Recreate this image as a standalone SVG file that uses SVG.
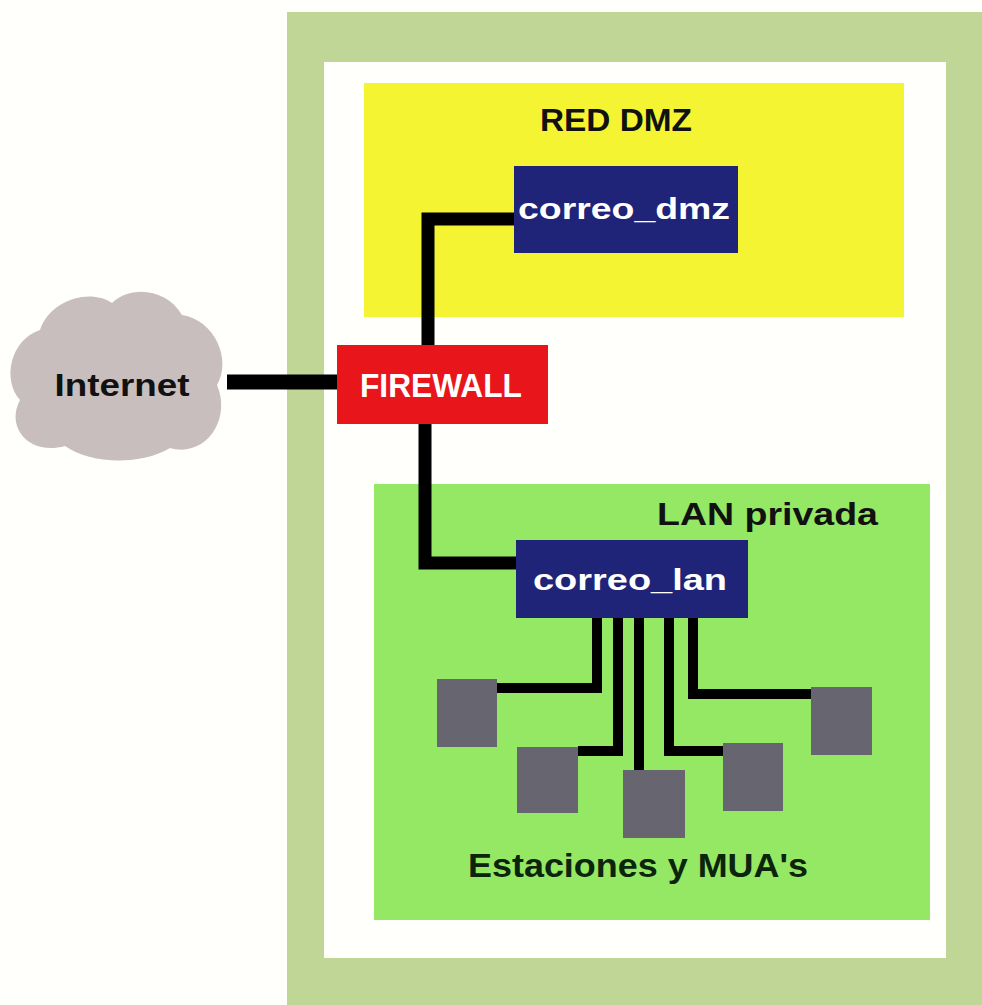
<svg xmlns="http://www.w3.org/2000/svg" width="982" height="1005" viewBox="0 0 982 1005">
<style>
.lbl{font-family:"Liberation Sans","DejaVu Sans",sans-serif;font-weight:bold;}
.dark{fill:#111;}
.white{fill:#fff;}
.srv{fill:#1f2478;}
.term{fill:#67656f;}
.wire{fill:none;stroke:#000;stroke-linejoin:miter;stroke-linecap:butt;}
</style>
<rect x="0" y="0" width="982" height="1005" fill="#fffffb"/>
<g id="frame">
<rect x="287" y="12" width="695" height="993" fill="#c0d696"/>
<rect x="324" y="62" width="622" height="896" fill="#fffffb"/>
</g>
<g id="dmz">
<rect x="364" y="83" width="540" height="234" fill="#f4f432"/>
<text class="lbl dark" x="616" y="131" font-size="32" text-anchor="middle" textLength="152" lengthAdjust="spacingAndGlyphs">RED DMZ</text>
</g>
<g id="lan">
<rect x="374" y="484" width="556" height="436" fill="#94e864"/>
<text class="lbl dark" x="878" y="525" font-size="31" text-anchor="end" textLength="221" lengthAdjust="spacingAndGlyphs">LAN privada</text>
<text class="lbl" fill="#0c240c" x="638" y="877" font-size="33" text-anchor="middle" textLength="340" lengthAdjust="spacingAndGlyphs">Estaciones y MUA's</text>
</g>
<g id="connectors">
<path class="wire" stroke-width="15" d="M227,382 H337"/>
<path class="wire" stroke-width="13" d="M428,345 V219 H514"/>
<path class="wire" stroke-width="13" d="M425,424 V563 H516"/>
<path class="wire" stroke-width="10" d="M597,618 V688 H497"/>
<path class="wire" stroke-width="10" d="M618,618 V751 H578"/>
<path class="wire" stroke-width="10" d="M639,618 V770"/>
<path class="wire" stroke-width="10" d="M669,618 V751 H723"/>
<path class="wire" stroke-width="10" d="M693,618 V694 H811"/>
</g>
<g id="internet">
<path fill="#c8bebe" d="M40,330 C50,300 90,288 112,303 C132,284 168,290 182,315 C215,320 232,360 217,385 C232,420 205,458 170,448 C140,466 90,464 65,446 C30,456 5,428 20,400 C2,380 10,340 40,330 Z"/>
<text class="lbl dark" x="122" y="396" font-size="32" text-anchor="middle" textLength="135" lengthAdjust="spacingAndGlyphs">Internet</text>
</g>
<g id="firewall">
<rect x="337" y="345" width="211" height="79" fill="#e8151b"/>
<text class="lbl white" x="441" y="397" font-size="33" text-anchor="middle" textLength="162" lengthAdjust="spacingAndGlyphs">FIREWALL</text>
</g>
<g id="correo_dmz">
<rect class="srv" x="514" y="166" width="224" height="87"/>
<text class="lbl white" x="624" y="219" font-size="30" text-anchor="middle" textLength="212" lengthAdjust="spacingAndGlyphs" font-weight="normal">correo_dmz</text>
</g>
<g id="correo_lan">
<rect class="srv" x="516" y="540" width="232" height="78"/>
<text class="lbl white" x="630" y="590" font-size="30" text-anchor="middle" textLength="194" lengthAdjust="spacingAndGlyphs">correo_lan</text>
</g>
<g id="estacion1"><rect class="term" x="437" y="679" width="60" height="68"/></g>
<g id="estacion2"><rect class="term" x="517" y="747" width="61" height="66"/></g>
<g id="estacion3"><rect class="term" x="623" y="770" width="62" height="68"/></g>
<g id="estacion4"><rect class="term" x="723" y="743" width="60" height="68"/></g>
<g id="estacion5"><rect class="term" x="811" y="687" width="61" height="68"/></g>
</svg>
